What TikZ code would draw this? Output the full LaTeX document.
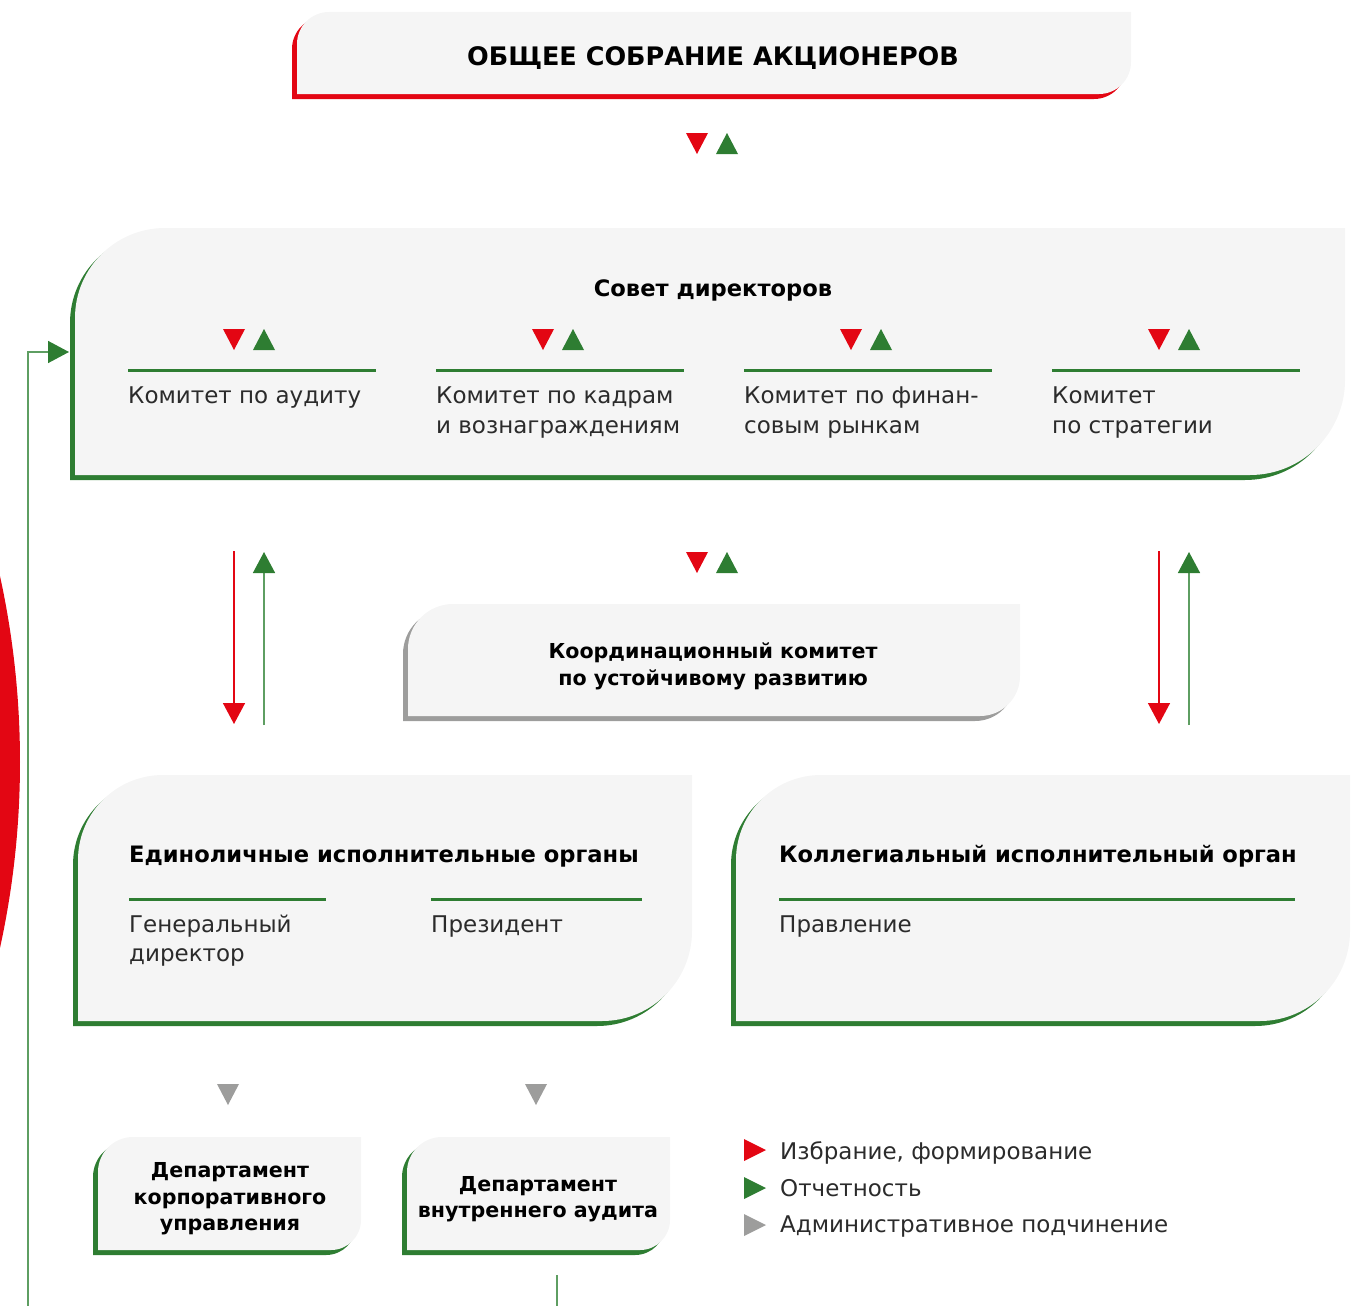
\documentclass[tikz,border=0pt]{standalone}
\usepackage{fontspec}
\setmainfont{DejaVu Sans}
\usetikzlibrary{arrows.meta}
\definecolor{myred}{HTML}{E30613}
\definecolor{mygreen}{HTML}{2E7D32}
\definecolor{lgreen}{HTML}{5E9E62}
\definecolor{boxfill}{HTML}{F5F5F5}
\definecolor{mygray}{HTML}{9D9D9C}
\definecolor{txt}{HTML}{2B2B2B}
% shape with rounded top-left (r1) and bottom-right (r2) corners
\newcommand\shapebox[7]{%
 \fill[#7] (#1,#4) -- (#1,{#2+#5}) .. controls (#1,{#2+#5-0.5523*#5}) and ({#1+#5-0.5523*#5},#2) .. ({#1+#5},#2) -- (#3,#2) -- (#3,{#4-#6}) .. controls (#3,{#4-#6+0.5523*#6}) and ({#3-#6+0.5523*#6},#4) .. ({#3-#6},#4) -- cycle;}
\newcommand\orgbox[7]{\shapebox{#1-5}{#2+5}{#3-5}{#4+5}{#5}{#6}{#7}\shapebox{#1}{#2}{#3}{#4}{#5}{#6}{boxfill}}
\newcommand\tdown[3]{\fill[#3] ({#1-11},#2) -- ({#1+11},#2) -- (#1,{#2+21}) -- cycle;}
\newcommand\tup[3]{\fill[#3] ({#1-11},{#2+21}) -- ({#1+11},{#2+21}) -- (#1,#2) -- cycle;}
\newcommand\tright[3]{\fill[#3] (744,{#2-11}) -- (744,{#2+11}) -- (766,#2) -- cycle;}
\begin{document}
\begin{tikzpicture}[x=1pt,y=-1pt,
  ctext/.style={anchor=base west,inner sep=0pt,text=txt,font=\fontsize{23}{28}\selectfont},
  btext/.style={anchor=base west,inner sep=0pt,text=black,font=\fontsize{22.6}{28}\selectfont\bfseries},
  bctext/.style={anchor=base,inner sep=0pt,text=black,font=\fontsize{20.6}{26}\selectfont\bfseries},
  sepline/.style={mygreen,line width=3pt},
  redarr/.style={myred,line width=1.5pt,-{Triangle[length=21pt,width=22pt]}},
  greenarr/.style={lgreen,line width=1.5pt,-{Triangle[length=21pt,width=22pt,color=mygreen]}},
  thinline/.style={lgreen,line width=1.5pt}]
\useasboundingbox (0,0) rectangle (1360,1306);
% big red shape on the left
\begin{scope}
\clip (0,0) rectangle (1360,1306);
\fill[myred] (-846,762) circle (866pt);
\end{scope}
% boxes
\orgbox{297}{12}{1131}{94}{32}{32}{myred}
\orgbox{75}{228}{1345}{475}{90}{95}{mygreen}
\orgbox{408}{604}{1020}{716}{45}{40}{mygray}
\orgbox{78}{775}{692}{1021}{85}{90}{mygreen}
\orgbox{736}{775}{1350}{1021}{85}{90}{mygreen}
\orgbox{98}{1137}{361}{1250}{35}{30}{mygreen}
\orgbox{407}{1137}{670}{1250}{35}{30}{mygreen}
% texts
\node[anchor=base,inner sep=0pt,font=\fontsize{25.5}{30}\selectfont\bfseries] (title) at (713,66) {ОБЩЕЕ СОБРАНИЕ АКЦИОНЕРОВ};
\node[bctext,font=\fontsize{22.6}{28}\selectfont\bfseries] (board) at (713,296) {Совет директоров};
\node[ctext] (c1a) at (128,403) {Комитет по аудиту};
\node[ctext] (c2a) at (436,403) {Комитет по кадрам};
\node[ctext] (c2b) at (436,433) {и вознаграждениям};
\node[ctext] (c3a) at (744,403) {Комитет по финан-};
\node[ctext] (c3b) at (744,433) {совым рынкам};
\node[ctext] (c4a) at (1052,403) {Комитет};
\node[ctext] (c4b) at (1052,433) {по стратегии};
\draw[sepline] (128,370) -- (376,370);
\draw[sepline] (436,370) -- (684,370);
\draw[sepline] (744,370) -- (992,370);
\draw[sepline] (1052,370) -- (1300,370);
\node[bctext] (coorda) at (713,658) {Координационный комитет};
\node[bctext] (coordb) at (713,685) {по устойчивому развитию};
\node[btext] (exec1) at (129,862) {Единоличные исполнительные органы};
\draw[sepline] (129,899) -- (326,899);
\draw[sepline] (431,899) -- (642,899);
\node[ctext] (gd1) at (129,932) {Генеральный};
\node[ctext] (gd2) at (129,961) {директор};
\node[ctext] (pres) at (431,932) {Президент};
\node[btext] (exec2) at (779,862) {Коллегиальный исполнительный орган};
\draw[sepline] (779,899) -- (1295,899);
\node[ctext] (prav) at (779,932) {Правление};
\node[bctext] (d1a) at (230,1177) {Департамент};
\node[bctext] (d1b) at (230,1204) {корпоративного};
\node[bctext] (d1c) at (230,1230) {управления};
\node[bctext] (d2a) at (538,1191) {Департамент};
\node[bctext] (d2b) at (538,1217) {внутреннего аудита};
% markers
\tdown{697}{133}{myred}\tup{727}{133}{mygreen}
\tdown{234}{329}{myred}\tup{264}{329}{mygreen}
\tdown{543}{329}{myred}\tup{573}{329}{mygreen}
\tdown{851}{329}{myred}\tup{881}{329}{mygreen}
\tdown{1159}{329}{myred}\tup{1189}{329}{mygreen}
\tdown{697}{552}{myred}\tup{727}{552}{mygreen}
\tdown{228}{1084}{mygray}\tdown{536}{1084}{mygray}
% arrows board <-> executive bodies
\coordinate (bL) at (234,551); \coordinate (eL) at (234,724);
\coordinate (bLg) at (264,552); \coordinate (eLg) at (264,725);
\coordinate (bR) at (1159,551); \coordinate (eR) at (1159,724);
\coordinate (bRg) at (1189,552); \coordinate (eRg) at (1189,725);
\draw[redarr] (bL) -- (eL);
\draw[greenarr] (eLg) -- (bLg);
\draw[redarr] (bR) -- (eR);
\draw[greenarr] (eRg) -- (bRg);
% feedback line
\coordinate (fbs) at (28,1306); \coordinate (fbe) at (69,352);
\draw[greenarr] (fbs) |- (fbe);
\coordinate (als) at (557,1275); \coordinate (ale) at (557,1306);
\draw[thinline] (als) -- (ale);
% legend
\tright{0}{1150}{myred}
\tright{0}{1188}{mygreen}
\tright{0}{1225}{mygray}
\node[ctext] (l1) at (780,1159) {Избрание, формирование};
\node[ctext] (l2) at (780,1196) {Отчетность};
\node[ctext] (l3) at (780,1232) {Административное подчинение};
\end{tikzpicture}
\end{document}
